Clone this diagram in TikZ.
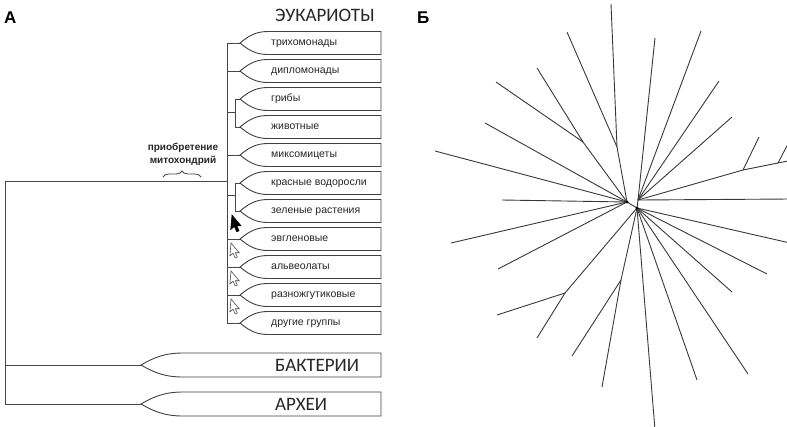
\documentclass[tikz,border=0pt]{standalone}
\usepackage{fontspec}
\setmainfont{Liberation Sans}
\newfontfamily\calfont{Carlito}
\usetikzlibrary{decorations.pathreplacing}

% name, tip x, centre y, half height, curve length, right x
\newcommand{\leafshape}[6]{%
  \draw[leafline] (#2,#3) .. controls ({#2+0.3*#5},{#3-0.6*#4}) and ({#2+0.55*#5},{#3-#4}) .. ({#2+#5},{#3-#4})
     -- (#6,{#3-#4}) -- (#6,{#3+#4}) -- ({#2+#5},{#3+#4})
     .. controls ({#2+0.55*#5},{#3+#4}) and ({#2+0.3*#5},{#3+0.6*#4}) .. cycle;
  \coordinate (#1) at (#2,#3);
}
% x, y, style
\newcommand{\cursorshape}[3]{%
  \draw[#3, shift={(#1,#2)}, rotate=-5] (0,0) -- (0,13) -- (3,10) -- (5.5,14.5) -- (7.5,13.5) -- (5.2,9.3) -- (9,9) -- cycle;
}

\begin{document}
\begin{tikzpicture}[x=1pt,y=-1pt,
  tree/.style={draw=black!72, line width=0.9pt},
  leafline/.style={draw=black!75, line width=0.9pt},
  starline/.style={draw=black!78, line width=0.9pt},
  lab/.style={font=\fontsize{10.5}{12}\selectfont, inner sep=0, anchor=base west, text=black!85},
  big/.style={font=\calfont\fontsize{19}{22}\selectfont, inner sep=0, anchor=base west, text=black!85},
  panel/.style={font=\bfseries\fontsize{17}{19}\selectfont, inner sep=0, anchor=base west}]
\useasboundingbox (0,0) rectangle (787,426);
\clip (0,0) rectangle (787,426);

% ---------- Panel A ----------
\node[panel] (pA) at (4,23.5) {А};
\node[big] (teu) at (275,21) {ЭУКАРИОТЫ};

\foreach \n/\y in {1/43,2/71,3/99,4/127,5/155,6/183,7/211,8/239,9/267,10/295,11/323}
  {\leafshape{L\n}{240}{\y}{11.5}{28}{381}}

\node[lab] (e1) at (271,45.7) {трихомонады};
\node[lab] (e2) at (271,73.7) {дипломонады};
\node[lab] (e3) at (271,101.7) {грибы};
\node[lab] (e4) at (271,129.7) {животные};
\node[lab] (e5) at (271,157.7) {миксомицеты};
\node[lab] (e6) at (271,185.7) {красные водоросли};
\node[lab] (e7) at (271,213.7) {зеленые растения};
\node[lab] (e8) at (271,241.7) {эвгленовые};
\node[lab] (e9) at (271,269.7) {альвеолаты};
\node[lab] (e10) at (271,297.7) {разножгутиковые};
\node[lab] (e11) at (271,325.7) {другие группы};

\leafshape{Lb}{141}{365}{12}{42}{381}
\leafshape{La}{141}{404}{12}{42}{381}
\node[big] (tbac) at (275,371.5) {БАКТЕРИИ};
\node[big] (tarc) at (275,410.5) {АРХЕИ};

\foreach \n/\y in {1/43,2/71,5/155,8/239,9/267,10/295,11/323}
  {\coordinate (b\n) at (227,\y);}
\draw[tree] (b1) -- (b11);
\foreach \n in {1,2,5,8,9,10,11} {\draw[tree] (b\n) -- (L\n);}

\coordinate (g0) at (227,112);
\coordinate (g1) at (235,112);
\coordinate (g3) at (235,99);
\coordinate (g4) at (235,127);
\draw[tree] (g0) -- (g1);
\draw[tree] (L3) -- (g3) -- (g4) -- (L4);

\coordinate (k0) at (227,195);
\coordinate (k1) at (235,195);
\coordinate (k6) at (235,183);
\coordinate (k7) at (235,211);
\draw[tree] (k0) -- (k1);
\draw[tree] (L6) -- (k6) -- (k7) -- (L7);

\coordinate (r1) at (227,181);
\coordinate (r0) at (5,181);
\coordinate (rb) at (5,365);
\coordinate (ra) at (5,404);
\draw[tree] (r1) -- (r0) -- (ra) -- (La);
\draw[tree] (rb) -- (Lb);

\node[font=\bfseries\fontsize{10}{13}\selectfont, align=center, inner sep=0, text=black!85] (mito) at (183,154) {приобретение\\митохондрий};
\coordinate (br1) at (163,177);
\coordinate (br2) at (201,177);
\draw[tree, line width=0.8pt, decorate, decoration={brace, amplitude=6pt}] (br1) -- (br2);

\begin{scope}[shift={(232,215)}, scale=1.12]
  \cursorshape{0}{0}{fill=black, draw=black, line width=0.6pt}
\end{scope}
\cursorshape{231}{243}{draw=black!70, fill=white, line width=0.6pt}
\cursorshape{231}{271}{draw=black!70, fill=white, line width=0.6pt}
\cursorshape{231}{299}{draw=black!70, fill=white, line width=0.6pt}

% ---------- Panel B ----------
\node[panel] (pB) at (417,23.5) {Б};

\coordinate (h1) at (627,202);
\coordinate (h2) at (637,208);
\coordinate (h3) at (638,200);
\draw[starline] (h1) -- (h2);
\draw[starline] (h3) -- (h2);

% upper left group to h1
\coordinate (ja) at (617,147);
\coordinate (ta) at (611,4);
\coordinate (tb) at (567,32);
\draw[starline] (ta) -- (ja) -- (h1);
\draw[starline] (tb) -- (ja);
\coordinate (jg) at (583,142);
\coordinate (tg) at (537,68);
\coordinate (th) at (496,82);
\draw[starline] (tg) -- (jg) -- (h1);
\draw[starline] (th) -- (jg);
\coordinate (ti) at (485,123);
\coordinate (tj) at (435,151);
\coordinate (tk) at (502,200);
\draw[starline] (ti) -- (h1);
\draw[starline] (tj) -- (h1);
\draw[starline] (tk) -- (h1);

% upper right group to h3
\coordinate (tc) at (655,38);
\coordinate (td) at (701,31);
\coordinate (te) at (719,81);
\coordinate (tf) at (732,117);
\foreach \t in {tc,td,te,tf} {\draw[starline] (\t) -- (h3);}

\coordinate (jl1) at (743,170);
\coordinate (jl2) at (778,163);
\coordinate (tl) at (790,160.5);
\coordinate (tl1) at (759,137);
\coordinate (tl2) at (790,140);
\draw[starline] (h3) -- (jl1) -- (jl2) -- (tl);
\draw[starline] (jl1) -- (tl1);
\draw[starline] (jl2) -- (tl2);
\coordinate (tm) at (790,199);
\draw[starline] (h3) -- (tm);

% lower group to h2
\coordinate (tn) at (790,243);
\coordinate (to) at (767,274);
\coordinate (tp) at (732,292);
\coordinate (tq) at (748,374);
\coordinate (tr) at (697,380);
\coordinate (ts) at (655,430);
\foreach \t in {tn,to,tp,tq,tr,ts} {\draw[starline] (h2) -- (\t);}
\coordinate (jt) at (621,280);
\coordinate (tt) at (602,387);
\coordinate (tt2) at (572,356);
\draw[starline] (h2) -- (jt) -- (tt);
\draw[starline] (jt) -- (tt2);
\coordinate (ju) at (565,293);
\coordinate (tu1) at (537,338);
\coordinate (tu2) at (497,315);
\draw[starline] (h2) -- (ju) -- (tu1);
\draw[starline] (ju) -- (tu2);

% lower left to h1
\coordinate (tv) at (451,243);
\coordinate (tw) at (498,269);
\draw[starline] (h1) -- (tv);
\draw[starline] (h1) -- (tw);
\fill[black] (h1) circle (1.6pt);
\fill[black] (h2) circle (1.6pt);
\end{tikzpicture}
\end{document}
